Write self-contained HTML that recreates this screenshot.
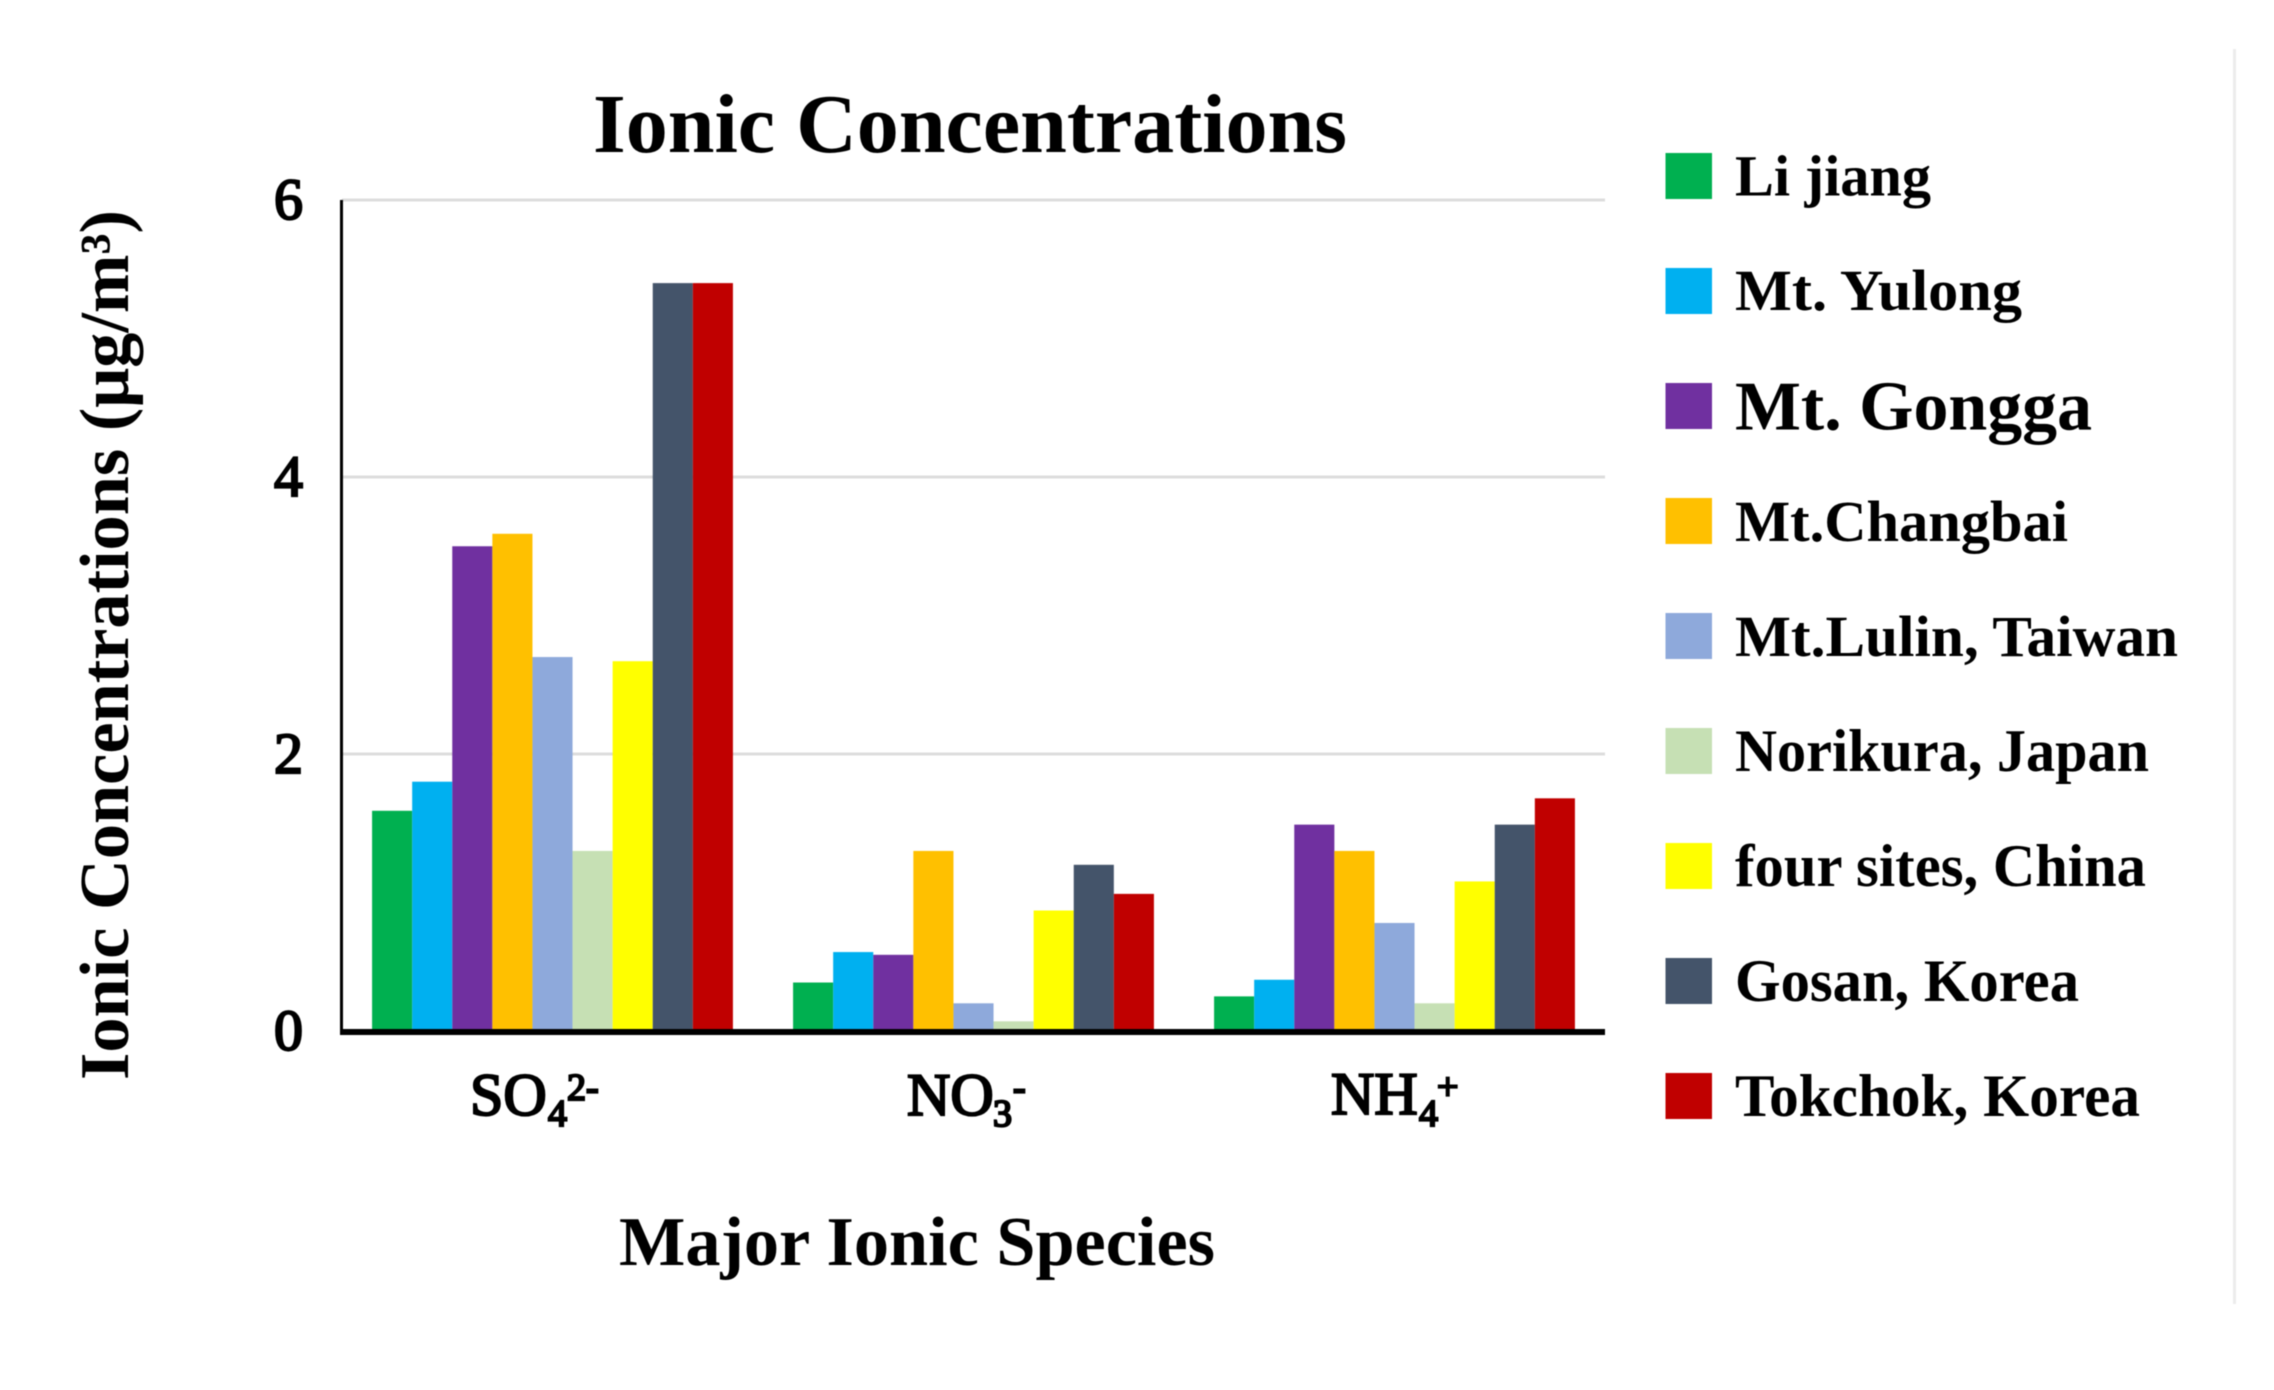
<!DOCTYPE html>
<html lang="en">
<head>
<meta charset="utf-8">
<title>Ionic Concentrations</title>
<style>
  html, body { margin: 0; padding: 0; background: #fff; }
  svg { display: block; filter: blur(0.6px); }
  text { font-family: "Liberation Serif", serif; font-weight: bold; fill: #000; }
  text.semi { font-weight: normal; stroke: #000; stroke-width: 2.2px; }
  .s0 { fill: #00B050; }
  .s1 { fill: #00B0F0; }
  .s2 { fill: #7030A0; }
  .s3 { fill: #FFC000; }
  .s4 { fill: #8EA9DB; }
  .s5 { fill: #C6E0B4; }
  .s6 { fill: #FFFF00; }
  .s7 { fill: #44546A; }
  .s8 { fill: #C00000; }
</style>
</head>
<body>
<svg id="chart" xmlns="http://www.w3.org/2000/svg" width="2274" height="1390" viewBox="0 0 2274 1390">
  <rect x="0" y="0" width="2274" height="1390" fill="#fff"/>
  <rect x="2233" y="49" width="3" height="1255" fill="#ececec"/>

  <text x="593" y="152" font-size="84" textLength="754" lengthAdjust="spacingAndGlyphs">Ionic Concentrations</text>
  <text transform="translate(128 1080) rotate(-90)" x="0" y="0" font-size="70" textLength="870" lengthAdjust="spacingAndGlyphs">Ionic Concentrations (μg/m³)</text>
  <text x="619" y="1265" font-size="70" textLength="596" lengthAdjust="spacingAndGlyphs">Major Ionic Species</text>

  <g id="grid"></g>
  <g id="bars"></g>
  <g id="ticks"></g>
  <rect x="340" y="200" width="3" height="834" fill="#000"/>
  <rect x="340" y="1029" width="1265" height="6" fill="#000"/>

  <text class="semi" font-size="60"><tspan x="470" y="1115">SO</tspan><tspan x="548" y="1126" font-size="38">4</tspan><tspan x="567" y="1100" font-size="38">2-</tspan></text>
  <text class="semi" font-size="60"><tspan x="907" y="1115">NO</tspan><tspan x="993" y="1126" font-size="38">3</tspan><tspan x="1013" y="1100" font-size="38">-</tspan></text>
  <text class="semi" font-size="60"><tspan x="1331" y="1114">NH</tspan><tspan x="1419" y="1126" font-size="38">4</tspan><tspan x="1437" y="1099" font-size="38">+</tspan></text>

  <g>
    <g>
      <rect class="s0" x="1665.5" y="153" width="46.5" height="46"/>
      <text x="1735" y="195.5" font-size="58" textLength="196" lengthAdjust="spacingAndGlyphs">Li jiang</text>
    </g>
    <g>
      <rect class="s1" x="1665.5" y="268" width="46.5" height="46"/>
      <text x="1735" y="310" font-size="58" textLength="287" lengthAdjust="spacingAndGlyphs">Mt. Yulong</text>
    </g>
    <g>
      <rect class="s2" x="1665.5" y="383" width="46.5" height="46"/>
      <text x="1735" y="429.5" font-size="70" textLength="357" lengthAdjust="spacingAndGlyphs">Mt. Gongga</text>
    </g>
    <g>
      <rect class="s3" x="1665.5" y="498" width="46.5" height="46"/>
      <text x="1735" y="541" font-size="58" textLength="333" lengthAdjust="spacingAndGlyphs">Mt.Changbai</text>
    </g>
    <g>
      <rect class="s4" x="1665.5" y="613" width="46.5" height="46"/>
      <text x="1735" y="656" font-size="58" textLength="443" lengthAdjust="spacingAndGlyphs">Mt.Lulin, Taiwan</text>
    </g>
    <g>
      <rect class="s5" x="1665.5" y="728" width="46.5" height="46"/>
      <text x="1735" y="771" font-size="60" textLength="414" lengthAdjust="spacingAndGlyphs">Norikura, Japan</text>
    </g>
    <g>
      <rect class="s6" x="1665.5" y="843" width="46.5" height="46"/>
      <text x="1735" y="886" font-size="60" textLength="411" lengthAdjust="spacingAndGlyphs">four sites, China</text>
    </g>
    <g>
      <rect class="s7" x="1665.5" y="958" width="46.5" height="46"/>
      <text x="1735" y="1001" font-size="60" textLength="344" lengthAdjust="spacingAndGlyphs">Gosan, Korea</text>
    </g>
    <g>
      <rect class="s8" x="1665.5" y="1073" width="46.5" height="46"/>
      <text x="1735" y="1116" font-size="60" textLength="405" lengthAdjust="spacingAndGlyphs">Tokchok, Korea</text>
    </g>
  </g>
</svg>

<script>
// Chart data
const categories = ['SO4', 'NO3', 'NH4'];
const yTickValues = [0, 2, 4, 6];
const liJiang = [1.59, 0.35, 0.25];
const mtYulong = [1.8, 0.57, 0.37];
const mtGongga = [3.5, 0.55, 1.49];
const mtChangbai = [3.59, 1.3, 1.3];
const mtLulin = [2.7, 0.2, 0.78];
const norikura = [1.3, 0.07, 0.2];
const fourSites = [2.67, 0.87, 1.08];
const gosan = [5.4, 1.2, 1.49];
const tokchok = [5.4, 0.99, 1.68];
const seriesList = [liJiang, mtYulong, mtGongga, mtChangbai, mtLulin, norikura, fourSites, gosan, tokchok];
const seriesKeys = ['li-jiang', 'mt-yulong', 'mt-gongga', 'mt-changbai', 'mt-lulin', 'norikura', 'four-sites', 'gosan', 'tokchok'];

// Axis functions
const plotLeft = 342;
const plotRight = 1605;
const plotTop = 200;
const plotBottom = 1031;
const yMax = 6;
const NS = 'http://www.w3.org/2000/svg';

function yScale(v) {
  return plotBottom - (v / yMax) * (plotBottom - plotTop);
}
function bandWidth() {
  return (plotRight - plotLeft) / categories.length;
}
function barWidth() {
  return bandWidth() / (seriesList.length + 1.5);
}
function xScale(catIndex, seriesIndex) {
  return plotLeft + catIndex * bandWidth() + 0.75 * barWidth() + seriesIndex * barWidth();
}

const gridGroup = document.getElementById('grid');
const tickGroup = document.getElementById('ticks');
const barGroup = document.getElementById('bars');

yTickValues.forEach(function (t) {
  if (t !== 0) {
    const line = document.createElementNS(NS, 'rect');
    
    
    line.setAttribute('x', plotLeft);
    line.setAttribute('y', yScale(t) - 1.5);
    line.setAttribute('width', plotRight - plotLeft);
    line.setAttribute('height', 3);
    line.setAttribute('fill', '#dcdcdc');
    gridGroup.appendChild(line);
  }
  const label = document.createElementNS(NS, 'text');
  
  
  label.setAttribute('class', 'semi');
  label.setAttribute('x', 303);
  label.setAttribute('y', yScale(t) + 19);
  label.setAttribute('text-anchor', 'end');
  label.setAttribute('font-size', 58);
  label.textContent = String(t);
  tickGroup.appendChild(label);
});

seriesList.forEach(function (values, s) {
  values.forEach(function (v, c) {
    const bar = document.createElementNS(NS, 'rect');
    
    
    bar.setAttribute('class', 's' + s);
    bar.setAttribute('x', xScale(c, s));
    bar.setAttribute('y', yScale(v));
    bar.setAttribute('width', barWidth());
    bar.setAttribute('height', yScale(0) - yScale(v));
    barGroup.appendChild(bar);
  });
});
</script>
</body>
</html>
